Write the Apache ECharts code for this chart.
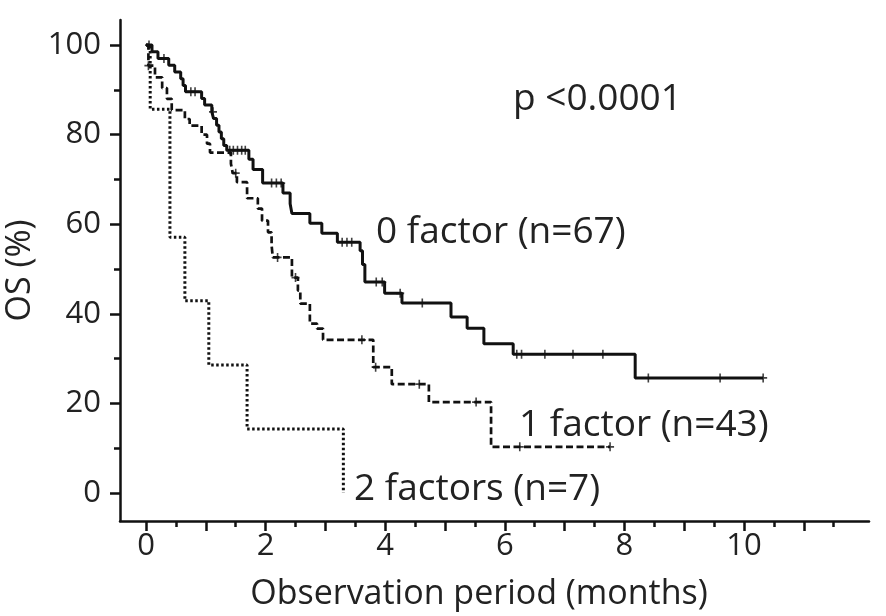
<!DOCTYPE html>
<html>
<head>
<meta charset="utf-8">
<script src="https://cdn.jsdelivr.net/npm/echarts@6/dist/echarts.min.js"></script>
<style>
  html,body{margin:0;padding:0;background:#fff}
  #chart{width:886px;height:616px}
</style>
</head>
<body>
<div id="chart"></div>
<script>
// KM steps [month, survival %]
const factor0 = [
  [0,100],[0.1,98.5],[0.2,97.0],[0.38,95.5],[0.48,94.0],[0.58,92.5],[0.62,91.0],[0.66,89.6],
  [0.93,88.1],[0.98,86.6],[1.1,85.1],[1.13,83.6],[1.18,82.1],[1.22,80.6],[1.26,79.1],[1.3,77.6],
  [1.35,76.5],[1.72,74.5],[1.79,72.2],[1.95,69.2],[2.29,67.0],[2.41,64.6],[2.44,62.4],[2.74,60.2],
  [2.94,58.0],[3.2,56.0],[3.58,54.1],[3.62,51.0],[3.66,47.1],[3.99,44.6],[4.28,42.4],[5.1,39.3],
  [5.37,36.8],[5.65,33.3],[6.14,31.0],[8.18,25.7],[10.32,25.7]
]
const factor1 = [
  [0,100],[0.04,95.4],[0.15,92.8],[0.27,90.4],[0.35,88.0],[0.43,85.5],[0.65,83.5],[0.73,82.0],
  [0.93,80.0],[1.02,78.0],[1.07,76.0],[1.42,73.5],[1.45,71.4],[1.52,69.4],[1.69,65.8],[1.87,63.5],
  [1.94,60.8],[2.04,58.2],[2.1,55.3],[2.12,52.6],[2.44,48.1],[2.54,45.2],[2.58,42.3],[2.74,37.8],
  [2.86,36.7],[2.96,34.2],[3.8,28.1],[4.11,24.3],[4.73,20.3],[5.77,10.3],[7.76,10.3]
]
const factor2 = [
  [0,100],[0.07,85.7],[0.4,57.1],[0.65,42.9],[1.05,28.6],[1.69,14.3],[3.3,0]
]

// censored marks
const cens0 = [
  [0.05,100],[0.3,97.0],[0.75,89.6],[0.82,89.6],[1.12,85.1],[1.4,76.5],[1.46,76.5],[1.53,76.5],
  [1.6,76.5],[1.66,76.5],[2.1,69.2],[2.18,69.2],[2.26,69.2],[3.28,56.0],[3.36,56.0],[3.44,56.0],
  [3.85,47.1],[3.95,47.1],[4.25,44.6],[4.62,42.4],[6.2,31.0],[6.28,31.0],[6.67,31.0],[7.14,31.0],
  [7.64,31.0],[8.4,25.7],[9.6,25.7],[10.32,25.7]
]
const cens1 = [
  [0.04,95.4],[1.5,71.4],[2.2,52.6],[2.5,48.1],[3.61,34.2],[3.84,28.1],[4.57,24.3],[5.52,20.3],
  [6.25,10.3],[7.76,10.3]
]

const xMajor = [0,1,2,3,4,5,6,7,8,9,10,11]
const xMinor = [0.5,1.5,2.5,3.5,4.5,5.5,6.5,7.5,8.5,9.5,10.5,11.5]
const xLabels = [0,2,4,6,8,10]
const yMajor = [0,20,40,60,80,100]
const yMinor = [10,30,50,70,90]

const FONT = "Open Sans"
const INK = "#111"
const TXT = "#222"

let chart = echarts.init(document.getElementById("chart"), null, {renderer:"canvas"})

let axisBase = {
  type:"value",
  splitLine:{show:false},
  axisLine:{show:false, onZero:false},
  axisLabel:{show:false},
  axisTick:{show:false}
}

let xMain = Object.assign({}, axisBase, {
  position:"bottom",
  min:-0.435, max:12.09,
  axisLine:{show:true, onZero:false, lineStyle:{color:INK, width:2.5}},
  axisTick:{show:true, customValues:xMajor, length:10, lineStyle:{color:INK, width:2.5}},
  axisLabel:{show:true, customValues:xLabels, fontFamily:FONT, fontSize:31, color:TXT, margin:10},
  name:"Observation period (months)", nameLocation:"middle", nameGap:56,
  nameTextStyle:{fontFamily:FONT, fontSize:34, color:TXT, padding:[0,31,0,0]}
})
let xSub = Object.assign({}, axisBase, {
  position:"bottom",
  min:-0.435, max:12.09,
  axisTick:{show:true, customValues:xMinor, length:6, lineStyle:{color:INK, width:2.5}}
})
let yMain = Object.assign({}, axisBase, {
  position:"left",
  min:-6.25, max:105.6,
  axisLine:{show:true, onZero:false, lineStyle:{color:INK, width:2.5}},
  axisTick:{show:true, customValues:yMajor, length:10, lineStyle:{color:INK, width:2.5}},
  axisLabel:{show:true, customValues:yMajor, fontFamily:FONT, fontSize:31, color:TXT, margin:19},
  name:"OS (%)", nameLocation:"middle", nameGap:70, nameRotate:90,
  nameTextStyle:{fontFamily:FONT, fontSize:34, color:TXT}
})
let ySub = Object.assign({}, axisBase, {
  position:"left",
  min:-6.25, max:105.6,
  axisTick:{show:true, customValues:yMinor, length:6, lineStyle:{color:INK, width:2.5}}
})

let stepLine = (data, type, width) => ({
  type:"line", data:data, step:"end", showSymbol:false, xAxisIndex:0, yAxisIndex:0,
  lineStyle:{color:INK, width:width, type:type}, z:3
})
// plus-shaped censor tick
let marks = (data) => ({
  type:"scatter", data:data, symbol:"path://M4,0h2v4h4v2h-4v4h-2v-4h-4v-2h4z", symbolSize:[8,9],
  xAxisIndex:0, yAxisIndex:0, itemStyle:{color:INK}, z:4
})

let textAt = (str, left, top) => ({
  type:"text", left:left, top:top,
  style:{text:str, fontFamily:FONT, fontSize:37, fill:TXT}
})

let option = {
  animation:false,
  backgroundColor:"#fff",
  grid:{left:120, right:17, top:20, bottom:95, containLabel:false, outerBoundsMode:"none"},
  xAxis:[xMain, xSub],
  yAxis:[yMain, ySub],
  series:[
    stepLine(factor0, "solid", 3),
    stepLine(factor1, [7,3.5], 2.7),
    stepLine(factor2, [2.5,2.5], 3),
    marks(cens0),
    marks(cens1)
  ],
  graphic:[
    textAt("p <0.0001", 513, 81),
    textAt("0 factor (n=67)", 376, 214),
    textAt("1 factor (n=43)", 519, 407),
    textAt("2 factors (n=7)", 354, 471)
  ]
}
chart.setOption(option)
</script>
</body>
</html>
